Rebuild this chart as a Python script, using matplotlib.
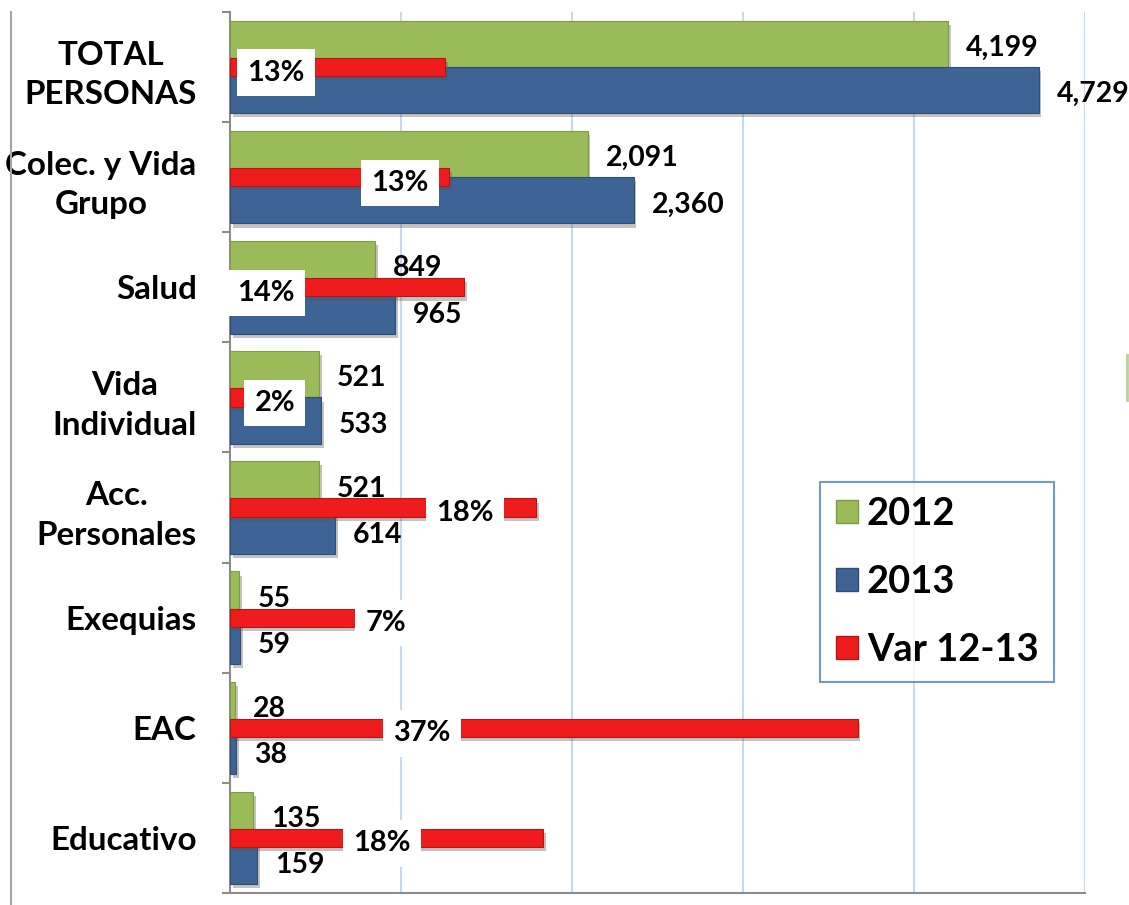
import numpy as np
import matplotlib
matplotlib.use('Agg')
import matplotlib.pyplot as plt
import matplotlib.patheffects as pe
from matplotlib.patches import Patch
from matplotlib.lines import Line2D
from matplotlib.font_manager import fontManager, FontProperties
from matplotlib.textpath import TextPath

categories = ['TOTAL\nPERSONAS', 'Colec. y Vida\nGrupo', 'Salud', 'Vida\nIndividual',
              'Acc.\nPersonales', 'Exequias', 'EAC', 'Educativo']
persons_2012 = [4199, 2091, 849, 521, 521, 55, 28, 135]
persons_2013 = [4729, 2360, 965, 533, 614, 59, 38, 159]
var_12_13 = [0.126, 0.128, 0.137, 0.023, 0.179, 0.073, 0.367, 0.183]
series_names = ['2012', '2013', 'Var 12-13']
x_ticks = [1000, 2000, 3000, 4000, 5000]

# the % boxes were dragged around by hand in the original, so keep their spots
var_label_x = [269, 994, 211, 263, 1374, 912, 1123, 889]

GREEN = '#9bbb59'
BLUE = '#3d6494'
RED = '#ee1c1c'
GRAY = '#8c8c8c'

FAMILIES = ('Liberation Sans', 'DejaVu Sans', 'Noto Sans', 'Roboto', 'Open Sans', 'Lato', 'Inter')


def pick_narrow_bold():
    # the original uses a narrow bold face; take the installed bold sans
    # whose "PERSONAS" width / cap height is closest to it
    target = 6.75
    best, best_err, best_cap = None, None, 0.716
    for f in fontManager.ttflist:
        if f.style != 'normal' or not f.name.startswith(FAMILIES):
            continue
        if any(s in f.name for s in ('Serif', 'Mono', 'CJK', 'Math')):
            continue
        w = f.weight if isinstance(f.weight, int) else {'bold': 700}.get(f.weight, 400)
        if w < 700 or w > 800:
            continue
        try:
            fp = FontProperties(fname=f.fname)
            wid = TextPath((0, 0), 'PERSONAS', size=10, prop=fp).get_extents().width
            cap = TextPath((0, 0), 'T', size=10, prop=fp).get_extents().height
        except Exception:
            continue
        err = abs(wid / cap - target)
        if best is None or err < best_err:
            best, best_err, best_cap = f.fname, err, cap / 10
    return best, best_cap


font_file, cap_ratio = pick_narrow_bold()


def fprop(cap_px):
    # size the font by the cap height measured on the reference
    size = cap_px / (100 / 72 * cap_ratio)
    if font_file:
        return FontProperties(fname=font_file, size=size)
    return FontProperties(family='DejaVu Sans', weight='bold', size=size)


W, H = 1129, 905
fig = plt.figure(figsize=(W / 100, H / 100), dpi=100)
ax = fig.add_axes([230 / W, 12 / H, (1085 - 230) / W, (893 - 12) / H])

shadow = [pe.SimplePatchShadow(offset=(2, -3), shadow_rgbFace='#555555', alpha=0.35), pe.Normal()]

y = np.arange(len(categories))
h = 0.42
ax.barh(y - h / 2, persons_2012, height=h, color=GREEN, edgecolor='#7f9a48',
        linewidth=0.8, zorder=3, path_effects=shadow)
ax.barh(y + h / 2, persons_2013, height=h, color=BLUE, edgecolor='#2f4d75',
        linewidth=0.8, zorder=3, path_effects=shadow)

ax.set_xlim(0, 5000)
ax.set_ylim(len(categories) - 0.5, -0.5)
ax.set_xticks(x_ticks)
ax.tick_params(axis='x', length=0, labelbottom=False)
ax.grid(axis='x', color='#c6d9f0', linewidth=1.5)
ax.set_axisbelow(True)

ax.set_yticks(y)
ax.set_yticklabels(categories, fontproperties=fprop(24))
for t in ax.get_yticklabels():
    t.set_multialignment('center')
    t.set_linespacing(1.45)
ax.set_yticks(np.arange(-0.5, len(categories), 1), minor=True)
ax.tick_params(axis='y', which='major', length=0, pad=24)
ax.tick_params(axis='y', which='minor', length=6, width=1.5, color=GRAY)

for side in ['top', 'right']:
    ax.spines[side].set_visible(False)
for side in ['left', 'bottom']:
    ax.spines[side].set_color(GRAY)
    ax.spines[side].set_linewidth(1.5)

# variation bars on their own scale (0-50%)
ax2 = ax.twiny()
ax2.barh(y, var_12_13, height=0.165, color=RED, edgecolor='#b81414',
         linewidth=0.8, zorder=3, path_effects=shadow)
ax2.set_xlim(0, 0.5)
ax2.set_ylim(ax.get_ylim())
ax2.axis('off')

for i in range(len(categories)):
    ax2.annotate('{:,}'.format(persons_2012[i]), xy=(persons_2012[i], y[i] - h / 2),
                 xycoords=ax.transData, xytext=(13, -3), textcoords='offset points',
                 ha='left', va='center', fontproperties=fprop(20.5), zorder=5)
    ax2.annotate('{:,}'.format(persons_2013[i]), xy=(persons_2013[i], y[i] + h / 2),
                 xycoords=ax.transData, xytext=(13, -3), textcoords='offset points',
                 ha='left', va='center', fontproperties=fprop(20.5), zorder=5)
    ax2.annotate('{:.0%}'.format(var_12_13[i]), xy=(var_label_x[i], y[i]),
                 xycoords=ax.transData, xytext=(0, -4), textcoords='offset points',
                 ha='center', va='center', fontproperties=fprop(21), zorder=6,
                 bbox=dict(boxstyle='square,pad=0.35', fc='white', ec='none'))

handles = [Patch(facecolor=GREEN, edgecolor='#7f9a48', label=series_names[0]),
           Patch(facecolor=BLUE, edgecolor='#2f4d75', label=series_names[1]),
           Patch(facecolor=RED, edgecolor='#b81414', label=series_names[2])]
leg = ax2.legend(handles=handles, loc='center',
                 bbox_to_anchor=(937 / W, 1 - 582 / H), bbox_transform=fig.transFigure,
                 prop=fprop(27.5), frameon=True, fancybox=False,
                 handlelength=0.6, handleheight=0.55, handletextpad=0.22,
                 labelspacing=0.9, borderpad=0.4, borderaxespad=0)
leg.get_frame().set_edgecolor('#4f81bd')
leg.get_frame().set_linewidth(1.5)

# stray lines left over in the source slide
fig.add_artist(Line2D([11 / W, 11 / W], [1 - 12 / H, 0], color='#a6a6a6', lw=1.5))
fig.add_artist(Line2D([1127 / W, 1127 / W], [1 - 355 / H, 1 - 400 / H], color='#b5d19a', lw=2))

fig.savefig('out.png', dpi=100)
